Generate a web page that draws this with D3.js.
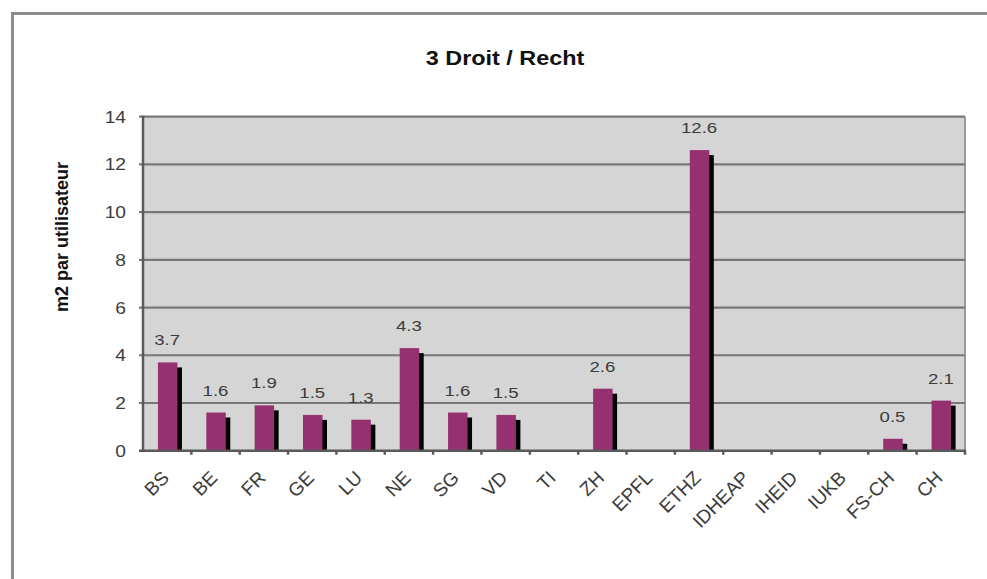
<!DOCTYPE html>
<html>
<head>
<meta charset="utf-8">
<script src="https://cdn.jsdelivr.net/npm/d3@7"></script>
<style>
  html, body { margin: 0; padding: 0; background: #fff; }
  svg { display: block; font-family: "Liberation Sans", Arial, Helvetica, sans-serif; }
</style>
</head>
<body>
<svg id="chart" width="987" height="579"></svg>
<script>
const title = "3 Droit / Recht";
const yTitle = "m2 par utilisateur";
const categories = ["BS","BE","FR","GE","LU","NE","SG","VD","TI","ZH","EPFL","ETHZ","IDHEAP","IHEID","IUKB","FS-CH","CH"];
const values = [3.7, 1.6, 1.9, 1.5, 1.3, 4.3, 1.6, 1.5, null, 2.6, null, 12.6, null, null, null, 0.5, 2.1];
const yTicks = [0, 2, 4, 6, 8, 10, 12, 14];

const svg = d3.select("#chart");
const L = 143, R = 965, T = 116.7, B = 450.7;
const stretch = 1.2;

// outer frame (top and left)
svg.append("path").attr("d", `M12.5,579 L12.5,13.5 L987,13.5`)
  .attr("fill", "none").attr("stroke", "#8c8c8c").attr("stroke-width", 3);

const x = d3.scaleBand().domain(categories).range([L, R]).padding(0);
const y = d3.scaleLinear().domain([0, 14]).range([B, T]);

// plot background
svg.append("rect").attr("x", L).attr("y", T).attr("width", R - L).attr("height", B - T).attr("fill", "#d5d5d5");

// right border
svg.append("line").attr("x1", R).attr("x2", R).attr("y1", T).attr("y2", B)
  .attr("stroke", "#9a9a9a").attr("stroke-width", 2);

// gridlines
svg.append("g").selectAll("line").data(yTicks.filter(d => d > 0)).join("line")
  .attr("x1", L - 4).attr("x2", R).attr("y1", d => y(d)).attr("y2", d => y(d))
  .attr("stroke", "#777").attr("stroke-width", 2.2);

// bars: shadow then main
const bw = 19.5;
const data = categories.map((c, i) => ({ c, v: values[i] })).filter(d => d.v != null && d.v > 0);
const cx = c => x(c) + x.bandwidth() / 2 + 0.5;

svg.append("g").selectAll("rect").data(data).join("rect")
  .attr("x", d => cx(d.c) - bw / 2 + 4.5)
  .attr("y", d => Math.min(y(d.v) + 5, B))
  .attr("width", bw)
  .attr("height", d => Math.max(B - y(d.v) - 5, 0))
  .attr("fill", "#000");

svg.append("g").selectAll("rect").data(data).join("rect")
  .attr("x", d => cx(d.c) - bw / 2)
  .attr("y", d => y(d.v))
  .attr("width", bw)
  .attr("height", d => B - y(d.v))
  .attr("fill", "#953171");

// axes lines
svg.append("line").attr("x1", L).attr("x2", L).attr("y1", T - 1).attr("y2", B + 1)
  .attr("stroke", "#5a5a5a").attr("stroke-width", 2.5);
svg.append("line").attr("x1", L - 4).attr("x2", R + 1).attr("y1", B).attr("y2", B)
  .attr("stroke", "#5a5a5a").attr("stroke-width", 2.5);

// x tick marks at band boundaries
const bounds = categories.map(c => x(c) + x.bandwidth());
svg.append("g").selectAll("line").data(bounds).join("line")
  .attr("x1", d => d).attr("x2", d => d).attr("y1", B).attr("y2", B + 4)
  .attr("stroke", "#5a5a5a").attr("stroke-width", 2.5);

// y tick labels
svg.append("g").selectAll("g").data(yTicks).join("g")
  .attr("transform", d => `translate(126,${y(d) + 6}) scale(${stretch},1)`)
  .append("text").attr("text-anchor", "end").attr("font-size", 16).attr("fill", "#3c3c3c")
  .text(d => d);

// x labels (rotated -45)
const lx = c => x(c) + x.bandwidth() / 2 + 3;
const ly = 479;
svg.append("g").selectAll("text").data(categories).join("text")
  .attr("x", c => lx(c)).attr("y", ly)
  .attr("transform", c => `rotate(-45 ${lx(c)} ${ly})`)
  .attr("text-anchor", "end").attr("font-size", 19).attr("fill", "#3c3c3c")
  .text(c => c);

// data labels
svg.append("g").selectAll("g").data(data).join("g")
  .attr("transform", d => `translate(${x(d.c) + x.bandwidth() / 2},${y(d.v) - 17}) scale(${stretch},1)`)
  .append("text").attr("text-anchor", "middle").attr("font-size", 15.5).attr("fill", "#3c3c3c")
  .text(d => d3.format(".1f")(d.v));

// title
svg.append("g").attr("transform", `translate(505,65) scale(${stretch},1)`)
  .append("text").attr("text-anchor", "middle").attr("font-size", 19.5).attr("font-weight", "bold")
  .attr("fill", "#111").text(title);

// y axis title
svg.append("text")
  .attr("x", 68).attr("y", 237)
  .attr("transform", "rotate(-90 68 237)")
  .attr("text-anchor", "middle").attr("font-size", 18).attr("font-weight", "bold")
  .attr("fill", "#111")
  .text(yTitle);
</script>
</body>
</html>
